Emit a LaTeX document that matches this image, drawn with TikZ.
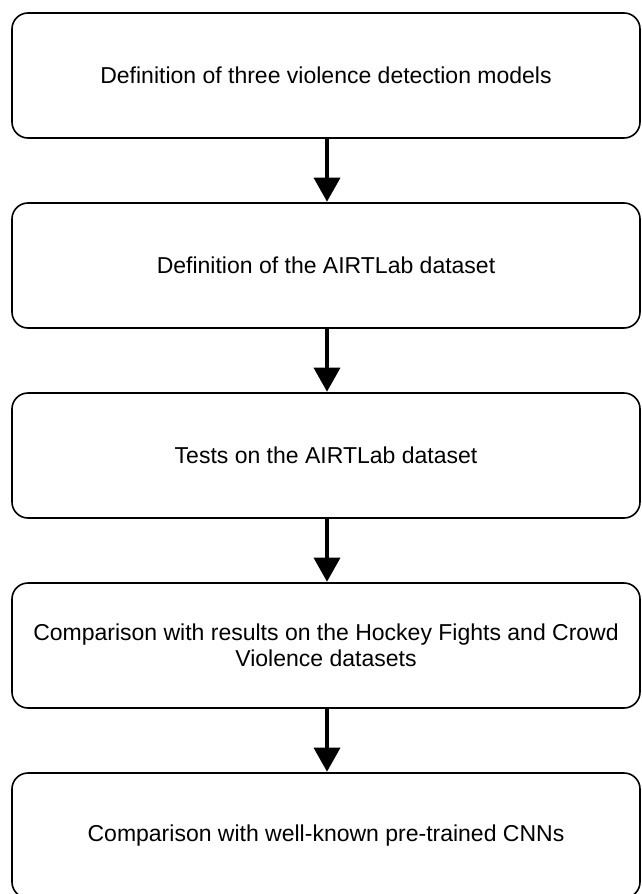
\documentclass[tikz,border=0pt]{standalone}
\usepackage{fontspec}
\setmainfont{Liberation Sans}
\usetikzlibrary{arrows.meta}
\begin{document}
\begin{tikzpicture}[x=1pt,y=-1pt,
  stepbox/.style={draw=black,line width=1.6pt,rounded corners=16pt,minimum width=628pt,minimum height=125pt,align=center,font=\fontsize{23}{26}\selectfont,inner sep=0pt},
  flow/.style={line width=3.5pt,-{Triangle[width=26pt,length=24pt]},shorten >=0.5pt}]
\useasboundingbox (0,0) rectangle (642,894);
\clip (0,0) rectangle (642,894);
\node[stepbox] (b1) at (326,75.5) {Definition of three violence detection models};
\node[stepbox] (b2) at (326,265.5) {Definition of the AIRTLab dataset};
\node[stepbox] (b3) at (326,455.5) {Tests on the AIRTLab dataset};
\node[stepbox] (b4) at (326,645.5) {Comparison with results on the Hockey Fights and Crowd\\Violence datasets};
\node[stepbox] (b5) at (326,835.5) {Comparison with well-known pre-trained CNNs};
\draw[flow] (b1.south) ++(1,0) coordinate (a1) -- (a1 |- b2.north);
\draw[flow] (b2) ++(1,62.5) coordinate (a2) -- (a2 |- b3.north);
\draw[flow] (b3) ++(1,62.5) coordinate (a3) -- (a3 |- b4.north);
\draw[flow] (b4) ++(1,62.5) coordinate (a4) -- (a4 |- b5.north);
\end{tikzpicture}
\end{document}
